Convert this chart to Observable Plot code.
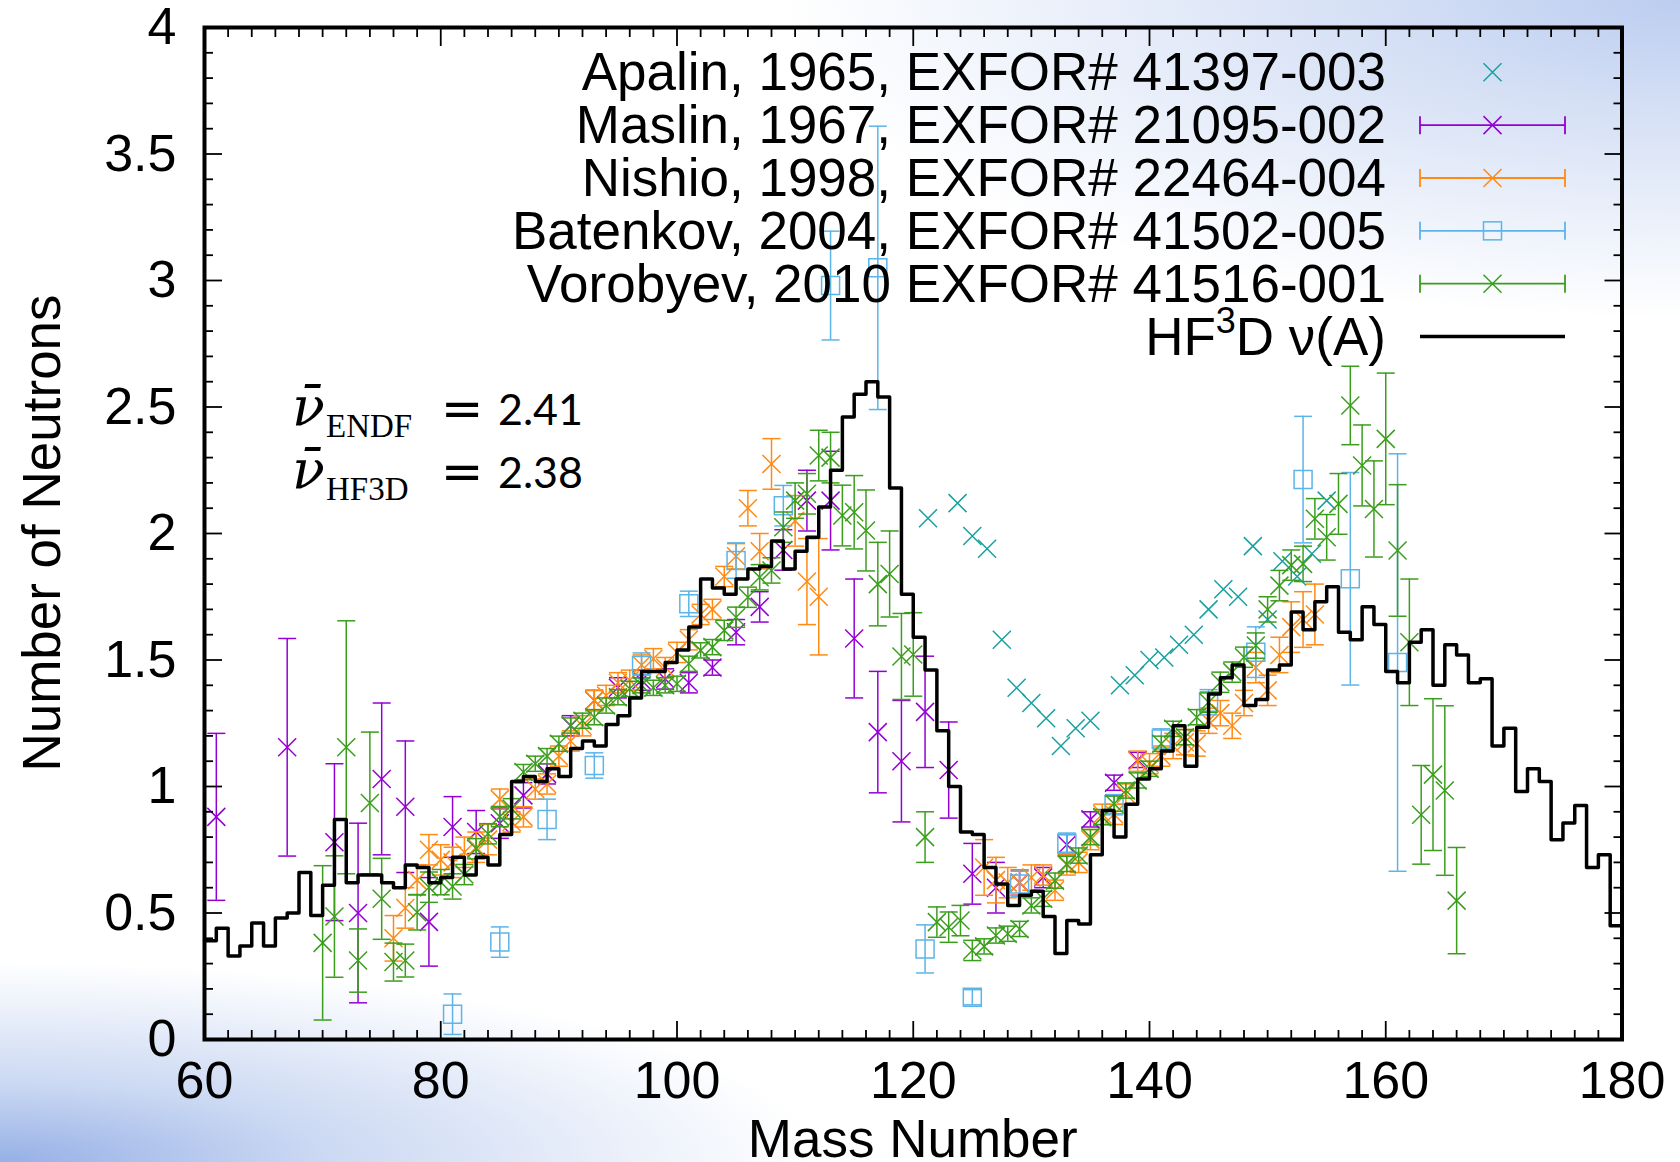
<!DOCTYPE html>
<html><head><meta charset="utf-8">
<script src="https://cdn.jsdelivr.net/npm/d3@7"></script>
<script src="https://cdn.jsdelivr.net/npm/@observablehq/plot@0.6"></script>
<style>
html,body{margin:0;padding:0;background:#fff;}
body{width:1680px;height:1162px;overflow:hidden;}
#wrap{position:relative;width:1680px;height:1162px;
 background:
  radial-gradient(ellipse 900px 320px at 100% 0%, rgba(188,205,240,1) 0%, rgba(200,214,242,0.75) 35%, rgba(255,255,255,0) 100%),
  radial-gradient(ellipse 820px 200px at 0% 100%, rgba(150,176,230,1) 0%, rgba(170,192,235,0.6) 40%, rgba(255,255,255,0) 100%),
  #ffffff;}
svg{display:block;}
</style></head><body><div id="wrap"></div>
<script>
// ---------------- data ----------------
// HF3D nu(A): value for each mass bin starting at A = 60 (bins 60..179)
const hf3dStartA = 60;
const hf3dNu = [0.39,0.44,0.33,0.37,0.46,0.37,0.48,0.50,0.66,0.49,
 0.61,0.87,0.62,0.65,0.65,0.62,0.60,0.69,0.68,0.62,
 0.64,0.72,0.65,0.72,0.69,0.81,1.02,1.04,1.02,1.07,
 1.04,1.15,1.18,1.16,1.245,1.28,1.35,1.455,1.455,1.49,
 1.54,1.63,1.82,1.785,1.76,1.82,1.86,1.87,1.97,1.86,
 1.93,1.985,2.105,2.25,2.46,2.55,2.60,2.54,2.18,1.76,
 1.59,1.46,1.22,1.00,0.82,0.81,0.68,0.615,0.53,0.57,
 0.586,0.486,0.34,0.47,0.457,0.73,0.905,0.80,0.93,1.03,
 1.07,1.14,1.24,1.08,1.234,1.366,1.43,1.48,1.32,1.344,
 1.46,1.48,1.69,1.62,1.73,1.79,1.61,1.58,1.71,1.64,
 1.455,1.41,1.57,1.62,1.40,1.56,1.52,1.41,1.426,1.16,
 1.23,0.98,1.07,1.02,0.79,0.856,0.925,0.68,0.73,0.45];

const apalinA  = [121.25,123.75,125,126.25,127.5,128.75,130,131.25,132.5,133.75,135,137.5,138.75,140,141.25,142.5,143.75,145,146.25,147.5,148.75,150,151.25,152.5,153.75,155];
const apalinNu = [2.06,2.12,1.99,1.94,1.58,1.39,1.33,1.27,1.16,1.23,1.26,1.40,1.44,1.50,1.51,1.56,1.60,1.70,1.78,1.75,1.95,1.66,1.89,1.83,1.92,2.13];

const maslinA   = [61,67,71,73,75,77,79,81,83,85,87,89,91,93,95,97,99,101,103,105,107,109,111,113,115,117,119,121,123,125,127,129,131,133,135,137,139];
const maslinNu  = [0.88,1.155,0.78,0.50,1.03,0.92,0.465,0.84,0.82,0.855,0.965,1.05,1.24,1.34,1.39,1.42,1.425,1.41,1.47,1.61,1.71,1.935,2.13,2.13,1.585,1.215,1.10,1.295,1.065,0.655,0.60,0.62,0.64,0.77,0.87,1.015,1.105];
const maslinErr = [0.33,0.43,0.31,0.355,0.30,0.26,0.175,0.12,0.085,0.06,0.05,0.04,0.04,0.04,0.04,0.04,0.04,0.04,0.03,0.05,0.06,0.08,0.12,0.195,0.235,0.24,0.24,0.22,0.19,0.12,0.10,0.05,0.04,0.04,0.03,0.03,0.03];

const nishioA   = [76,77,78,79,80,81,82,83,84,85,86,87,88,89,90,91,92,93,94,95,96,97,98,99,100,101,102,103,104,105,106,107,108,110,111,112,
                   126,127,128,129,130,131,132,133,134,135,136,137,138,139,140,141,142,143,144,145,146,147,148,149,150,151,152,153,154];
const nishioNu  = [0.40,0.52,0.63,0.75,0.71,0.70,0.74,0.76,0.79,0.95,0.86,0.88,0.99,1.01,1.12,1.18,1.24,1.34,1.36,1.41,1.42,1.48,1.505,1.47,1.53,1.58,1.68,1.70,1.83,1.91,2.10,1.93,2.275,2.05,1.81,1.75,
                   0.68,0.63,0.62,0.62,0.64,0.65,0.59,0.69,0.70,0.79,0.89,0.89,0.97,1.10,1.09,1.12,1.16,1.175,1.17,1.26,1.29,1.24,1.33,1.47,1.38,1.52,1.63,1.66,1.68];
const nishioErr = [0.09,0.08,0.06,0.06,0.06,0.06,0.06,0.06,0.06,0.04,0.04,0.04,0.04,0.04,0.04,0.04,0.04,0.04,0.04,0.04,0.04,0.04,0.04,0.04,0.04,0.04,0.04,0.04,0.04,0.05,0.07,0.07,0.10,0.10,0.17,0.23,
                   0.11,0.09,0.06,0.05,0.05,0.04,0.04,0.04,0.04,0.04,0.04,0.04,0.04,0.04,0.04,0.04,0.05,0.05,0.05,0.05,0.05,0.05,0.05,0.06,0.06,0.07,0.10,0.11,0.12];

const batenkovA   = [81,85,89,93,97,101,105,109,113,117,121,125,129,133,137,141,145,149,153,157,161];
const batenkovNu  = [0.10,0.385,0.87,1.083,1.478,1.722,1.893,2.11,2.98,3.05,0.358,0.167,0.615,0.776,0.928,1.188,1.333,1.531,2.213,1.821,1.49];
const batenkovErr = [0.08,0.06,0.08,0.05,0.05,0.05,0.07,0.08,0.215,0.56,0.095,0.03,0.05,0.04,0.04,0.04,0.05,0.10,0.25,0.42,0.825];

const vorobyevA = [70,71,72,73,74,75,76,77,78,79,80,81,82,83,84,85,86,87,88,89,90,91,92,93,94,95,96,97,98,99,100,
 101,102,103,104,105,106,107,108,109,110,111,112,113,114,115,116,117,118,119,120,121,122,123,124,125,126,127,128,129,130,
 131,132,133,134,135,136,137,138,139,140,141,142,143,144,145,146,147,148,149,150,151,152,153,154,155,156,157,158,159,160,
 161,162,163,164,165,166];
const vorobyevNu = [0.382,0.486,1.155,0.312,0.935,0.556,0.306,0.312,0.503,0.602,0.622,0.605,0.652,0.754,0.813,0.881,0.912,1.057,1.09,1.12,1.169,1.241,1.26,1.274,1.32,1.353,1.386,1.40,1.39,1.40,1.406,
 1.485,1.538,1.551,1.617,1.669,1.748,1.827,1.854,2.025,2.13,2.157,2.308,2.30,2.071,2.084,2.012,1.80,1.84,1.514,1.522,0.80,0.464,0.444,0.47,0.352,0.368,0.411,0.418,0.437,0.53,
 0.556,0.628,0.694,0.727,0.80,0.879,0.932,0.984,1.024,1.07,1.169,1.228,1.195,1.274,1.333,1.412,1.452,1.511,1.557,1.70,1.794,1.875,1.88,2.058,1.985,2.117,2.506,2.269,2.097,2.374,
 1.933,1.57,0.888,1.047,0.984,0.549];
const vorobyevErr = [0.305,0.24,0.5,0.125,0.28,0.16,0.075,0.065,0.07,0.06,0.05,0.05,0.04,0.04,0.04,0.04,0.04,0.03,0.03,0.03,0.03,0.03,0.03,0.03,0.03,0.03,0.03,0.03,0.03,0.03,0.03,
 0.03,0.03,0.03,0.04,0.04,0.04,0.05,0.05,0.06,0.07,0.08,0.10,0.10,0.12,0.145,0.16,0.165,0.17,0.17,0.165,0.10,0.06,0.06,0.06,0.04,0.03,0.03,0.03,0.03,0.03,
 0.03,0.03,0.03,0.03,0.03,0.03,0.03,0.03,0.03,0.03,0.03,0.03,0.03,0.03,0.04,0.04,0.04,0.04,0.05,0.05,0.06,0.06,0.07,0.08,0.09,0.12,0.155,0.16,0.19,0.26,
 0.26,0.25,0.195,0.30,0.335,0.21];

const xTickLabels = [60,80,100,120,140,160,180];
const yTickLabels = [0,0.5,1,1.5,2,2.5,3,3.5,4];

const seriesNames = ["Apalin, 1965, EXFOR# 41397-003","Maslin, 1967, EXFOR# 21095-002","Nishio, 1998, EXFOR# 22464-004","Batenkov, 2004, EXFOR# 41502-005","Vorobyev, 2010 EXFOR# 41516-001"];
const seriesColors = ["#17a0a0","#9400d3","#ff8a14","#5cb4e8","#3a9e1c"];
const annotations = [{A: 67.45, nu: 2.427, sub: "ENDF", val: "2.41"},{A: 67.45, nu: 2.178, sub: "HF3D", val: "2.38"}];

// ---------------- symbols ----------------
const xSym = {draw(c){ c.moveTo(-9,-9); c.lineTo(9,9); c.moveTo(-9,9); c.lineTo(9,-9); }};
const sqSym = {draw(c){ c.moveTo(-9,-9); c.lineTo(9,-9); c.lineTo(9,9); c.lineTo(-9,9); c.closePath(); }};
const capSym = {draw(c){ c.moveTo(-9,0); c.lineTo(9,0); }};

function errSeries(mass, nu, err, color, sym) {
  const data = mass.map((A, i) => ({A, v: nu[i], lo: nu[i] - err[i], hi: nu[i] + err[i]}));
  return [
    Plot.ruleX(data, {x: "A", y1: "lo", y2: "hi", stroke: color, strokeWidth: 1.5}),
    Plot.dot(data, {x: "A", y: "lo", symbol: capSym, stroke: color, fill: "none", strokeWidth: 1.5}),
    Plot.dot(data, {x: "A", y: "hi", symbol: capSym, stroke: color, fill: "none", strokeWidth: 1.5}),
    Plot.dot(data, {x: "A", y: "v", symbol: sym, stroke: color, fill: "none", strokeWidth: 1.5})
  ];
}

const hfData = hf3dNu.map((v, i) => ({A: hf3dStartA + i, v}));
hfData.push({A: hf3dStartA + hf3dNu.length, v: hf3dNu[hf3dNu.length - 1]});
const apalinData = apalinA.map((A, i) => ({A, v: apalinNu[i]}));

const xMinor = d3.range(60, 181, 2).filter(d => d % 20 !== 0);
const yMinor = d3.range(0, 41, 1).filter(d => d % 5 !== 0).map(d => d / 10);
const fmt = d3.format("~g");
const tickStyle = {stroke: "black", strokeWidth: 1.8, fill: "none", label: null};

const FONT = "'Liberation Sans', Arial, Helvetica, sans-serif";

const plot = Plot.plot({
  width: 1680, height: 1162,
  marginLeft: 204, marginRight: 58.5, marginTop: 27, marginBottom: 123,
  x: {domain: [60, 180], label: null},
  y: {domain: [0, 4], label: null},
  style: {fontFamily: FONT, fontSize: "52px", background: "transparent", color: "black", overflow: "visible"},
  marks: [
    Plot.dot(apalinData, {x: "A", y: "v", symbol: xSym, stroke: seriesColors[0], fill: "none", strokeWidth: 1.5}),
    ...errSeries(maslinA, maslinNu, maslinErr, seriesColors[1], xSym),
    ...errSeries(nishioA, nishioNu, nishioErr, seriesColors[2], xSym),
    ...errSeries(batenkovA, batenkovNu, batenkovErr, seriesColors[3], sqSym),
    ...errSeries(vorobyevA, vorobyevNu, vorobyevErr, seriesColors[4], xSym),
    Plot.line(hfData, {x: "A", y: "v", curve: "step-after", stroke: "black", strokeWidth: 3.5}),
    // inward ticks on all four sides
    Plot.axisX(xTickLabels, {anchor: "bottom", tickSize: -18, ...tickStyle}),
    Plot.axisX(xMinor, {anchor: "bottom", tickSize: -9, ...tickStyle}),
    Plot.axisX(xTickLabels, {anchor: "top", tickSize: -18, ...tickStyle}),
    Plot.axisX(xMinor, {anchor: "top", tickSize: -9, ...tickStyle}),
    Plot.axisY(yTickLabels, {anchor: "left", tickSize: -18, ...tickStyle}),
    Plot.axisY(yMinor, {anchor: "left", tickSize: -9, ...tickStyle}),
    Plot.axisY(yTickLabels, {anchor: "right", tickSize: -18, ...tickStyle}),
    Plot.axisY(yMinor, {anchor: "right", tickSize: -9, ...tickStyle}),
    // tick labels
    Plot.axisX(xTickLabels, {anchor: "bottom", tickSize: 0, tickPadding: 22, tickFormat: fmt, label: null}),
    Plot.axisY(yTickLabels, {anchor: "left", tickSize: 0, tickPadding: 28, tickFormat: fmt, label: null}),
    Plot.frame({stroke: "black", strokeWidth: 4})
  ]
});

document.getElementById("wrap").appendChild(plot);

const svg = d3.select(plot);
const sx = plot.scale("x"), sy = plot.scale("y");
const x0 = sx.range[0], x1 = sx.range[1], y0 = sy.range[0], y1 = sy.range[1];

// axis titles
svg.append("text")
  .attr("transform", `translate(60,${(y0 + y1) / 2}) rotate(-90)`)
  .attr("text-anchor", "middle").attr("font-family", FONT).attr("font-size", 53)
  .attr("fill", "black").text("Number of Neutrons");
svg.append("text")
  .attr("x", (x0 + x1) / 2).attr("y", 1157)
  .attr("text-anchor", "middle").attr("font-family", FONT).attr("font-size", 53)
  .attr("fill", "black").text("Mass Number");

// legend
const lg = svg.append("g").attr("font-family", FONT).attr("font-size", 53);
const rowY = i => 72.3 + i * 52.85;
const textRight = 1386, sampleL = 1420, sampleR = 1565, sampleC = 1492.5;
function drawSym(g, kind, cx, cy, color) {
  if (kind === "sq") g.append("rect").attr("x", cx - 9).attr("y", cy - 9).attr("width", 18).attr("height", 18).attr("fill", "none").attr("stroke", color).attr("stroke-width", 1.5);
  else g.append("path").attr("d", `M${cx-9},${cy-9}L${cx+9},${cy+9}M${cx-9},${cy+9}L${cx+9},${cy-9}`).attr("stroke", color).attr("stroke-width", 1.5).attr("fill", "none");
}
seriesNames.forEach((name, i) => {
  const y = rowY(i), color = seriesColors[i];
  lg.append("text").attr("x", textRight).attr("y", y).attr("dy", "0.34em").attr("text-anchor", "end").attr("fill", "black").text(name);
  if (i > 0) {
    lg.append("path").attr("d", `M${sampleL},${y}H${sampleR}M${sampleL},${y-9}V${y+9}M${sampleR},${y-9}V${y+9}`).attr("stroke", color).attr("stroke-width", 1.8).attr("fill", "none");
  }
  drawSym(lg, i === 3 ? "sq" : "x", sampleC, y, color);
});
{
  const y = rowY(5);
  const t = lg.append("text").attr("x", textRight).attr("y", y).attr("dy", "0.34em").attr("text-anchor", "end").attr("fill", "black");
  t.append("tspan").text("HF");
  t.append("tspan").attr("font-size", 36).attr("dy", -22).text("3");
  t.append("tspan").attr("dy", 22).text("D ν(A)");
  lg.append("path").attr("d", `M${sampleL},${y}H${sampleR}`).attr("stroke", "black").attr("stroke-width", 3.5);
}

// annotations (mean multiplicities)
annotations.forEach(a => {
  const px = sx.apply(a.A), py = sy.apply(a.nu);
  const g = svg.append("g").attr("fill", "black").attr("text-anchor", "start");
  g.append("text").attr("x", px).attr("y", py).attr("text-anchor", "start").attr("font-family", "'DejaVu Serif', serif").attr("font-style", "italic").attr("font-size", 54).text("ν\u0304");
  g.append("text").attr("x", px + 34).attr("y", py + 12).attr("text-anchor", "start").attr("font-family", "'Liberation Serif', 'DejaVu Serif', serif").attr("font-size", 33).text(a.sub);
  g.append("text").attr("x", px + 170).attr("y", py + 1).attr("text-anchor", "middle").attr("font-family", "'DejaVu Sans', sans-serif").attr("font-size", 51).text("=");
  g.append("text").attr("x", px + 206).attr("y", py).attr("text-anchor", "start").attr("font-family", "Lato, 'Open Sans', sans-serif").attr("font-size", 43).text(a.val);
});
</script></body></html>
